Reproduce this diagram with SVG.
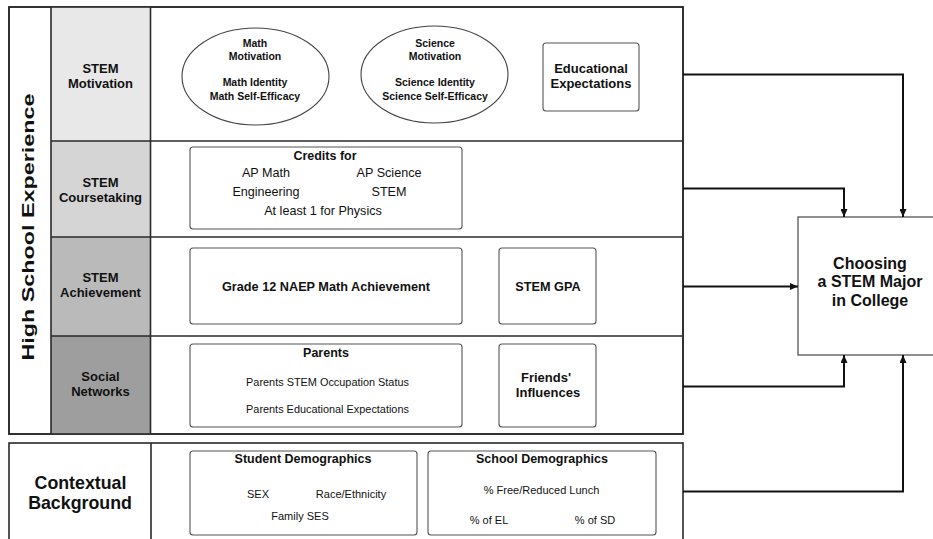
<svg xmlns="http://www.w3.org/2000/svg" width="933" height="539" viewBox="0 0 933 539">
<defs>
<style>
text{font-family:"Liberation Sans",Arial,sans-serif;fill:#111;text-anchor:middle}
.b{font-weight:bold}
.frame{fill:#fff;stroke:#2a2a2a;stroke-width:1.6}
.div{stroke:#2a2a2a;stroke-width:1.6;fill:none}
.box{fill:#fff;stroke:#555;stroke-width:1.1}
.conn{fill:none;stroke:#111;stroke-width:2}
</style>
<marker id="ah" markerUnits="userSpaceOnUse" markerWidth="9" markerHeight="7" refX="8" refY="3.5" orient="auto">
<path d="M0,0 L8,3.5 L0,7 z" fill="#111"/>
</marker>
</defs>
<rect width="933" height="539" fill="#fff"/>

<g id="high-school-frame">
<rect class="frame" x="9" y="7" width="674" height="427"/>
<rect x="51" y="7" width="99.5" height="134" fill="#e8e8e8"/>
<rect x="51" y="141" width="99.5" height="96" fill="#d5d5d5"/>
<rect x="51" y="237" width="99.5" height="99" fill="#bababa"/>
<rect x="51" y="336" width="99.5" height="98" fill="#9e9e9e"/>
<path class="div" d="M51,7 V434 M150.5,7 V434 M51,141 H683 M51,237 H683 M51,336 H683"/>
<rect x="9" y="7" width="674" height="427" fill="none" stroke="#2a2a2a" stroke-width="1.6"/>
<text class="b" transform="translate(34,227) rotate(-90)" font-size="16" textLength="267" lengthAdjust="spacingAndGlyphs">High School Experience</text>
</g>

<g id="row-motivation-label">
<text class="b" font-size="13" x="100.5" y="73">STEM</text>
<text class="b" font-size="13" x="100.5" y="88">Motivation</text>
</g>
<g id="row-coursetaking-label">
<text class="b" font-size="13" x="100.5" y="187">STEM</text>
<text class="b" font-size="13" x="100.5" y="202">Coursetaking</text>
</g>
<g id="row-achievement-label">
<text class="b" font-size="13" x="100.5" y="282">STEM</text>
<text class="b" font-size="13" x="100.5" y="297">Achievement</text>
</g>
<g id="row-social-label">
<text class="b" font-size="13" x="100.5" y="381">Social</text>
<text class="b" font-size="13" x="100.5" y="396">Networks</text>
</g>

<g id="math-motivation">
<ellipse cx="255.5" cy="76.5" rx="73.5" ry="48.5" fill="#fff" stroke="#444" stroke-width="1.1"/>
<text class="b" font-size="10.5" x="255" y="47">Math</text>
<text class="b" font-size="10.5" x="255" y="60">Motivation</text>
<text class="b" font-size="10.5" x="255" y="86">Math Identity</text>
<text class="b" font-size="10.5" x="255" y="99.5">Math Self-Efficacy</text>
</g>
<g id="science-motivation">
<ellipse cx="434.5" cy="74.5" rx="73.5" ry="48.5" fill="#fff" stroke="#444" stroke-width="1.1"/>
<text class="b" font-size="10.5" x="435" y="47">Science</text>
<text class="b" font-size="10.5" x="435" y="60">Motivation</text>
<text class="b" font-size="10.5" x="435" y="86">Science Identity</text>
<text class="b" font-size="10.5" x="435" y="99.5">Science Self-Efficacy</text>
</g>
<g id="educational-expectations">
<rect class="box" x="543" y="43" width="96" height="68" rx="3"/>
<text class="b" font-size="13" x="591" y="72.5">Educational</text>
<text class="b" font-size="13" x="591" y="87.5">Expectations</text>
</g>

<g id="credits">
<rect class="box" x="190" y="147" width="272" height="82" rx="3"/>
<text class="b" font-size="12.5" x="325" y="159.5">Credits for</text>
<text font-size="12.6" x="266" y="176.5">AP Math</text>
<text font-size="12.6" x="389" y="176.5">AP Science</text>
<text font-size="12.6" x="266" y="196">Engineering</text>
<text font-size="12.6" x="389" y="196">STEM</text>
<text font-size="12.6" x="323" y="215">At least 1 for Physics</text>
</g>

<g id="naep-math">
<rect class="box" x="190" y="248" width="272" height="76" rx="3"/>
<text class="b" font-size="12.7" x="326" y="290.5">Grade 12 NAEP Math Achievement</text>
</g>
<g id="stem-gpa">
<rect class="box" x="499" y="248" width="97" height="76" rx="3"/>
<text class="b" font-size="12.7" x="548" y="290.5">STEM GPA</text>
</g>

<g id="parents">
<rect class="box" x="190" y="344" width="272" height="83" rx="3"/>
<text class="b" font-size="12.5" x="326" y="356.5">Parents</text>
<text font-size="10.9" x="327.5" y="386">Parents STEM Occupation Status</text>
<text font-size="10.9" x="327.5" y="412.5">Parents Educational Expectations</text>
</g>
<g id="friends">
<rect class="box" x="499" y="344" width="97" height="83" rx="3"/>
<text class="b" font-size="13" x="546" y="381.5">Friends'</text>
<text class="b" font-size="13" x="548" y="396.5">Influences</text>
</g>

<g id="contextual-background">
<rect class="frame" x="9" y="443" width="674" height="110"/>
<path class="div" d="M151,443 V539"/>
<text class="b" font-size="17.8" x="80.5" y="488.5">Contextual</text>
<text class="b" font-size="17.8" x="80" y="509">Background</text>
</g>
<g id="student-demographics">
<rect class="box" x="190" y="451" width="227" height="84" rx="3"/>
<text class="b" font-size="12.5" x="303" y="462.5">Student Demographics</text>
<text font-size="11" x="258" y="498">SEX</text>
<text font-size="11" x="351" y="498">Race/Ethnicity</text>
<text font-size="11" x="300" y="519.5">Family SES</text>
</g>
<g id="school-demographics">
<rect class="box" x="428" y="451" width="228" height="84" rx="3"/>
<text class="b" font-size="12.5" x="542" y="462.5">School Demographics</text>
<text font-size="11" x="541.5" y="493.5">% Free/Reduced Lunch</text>
<text font-size="11" x="489" y="524">% of EL</text>
<text font-size="11" x="595" y="524">% of SD</text>
</g>

<g id="choosing-stem-major">
<rect x="798" y="217" width="140" height="138" fill="#fff" stroke="#555" stroke-width="1.3"/>
<text class="b" font-size="16" x="870" y="268.5">Choosing</text>
<text class="b" font-size="16" x="870" y="287">a STEM Major</text>
<text class="b" font-size="16" x="870" y="305.5">in College</text>
</g>

<g id="connectors">
<path class="conn" d="M683,74.5 H903 V217" marker-end="url(#ah)"/>
<path class="conn" d="M683,188.5 H844 V217" marker-end="url(#ah)"/>
<path class="conn" d="M683,286.5 H798" marker-end="url(#ah)"/>
<path class="conn" d="M683,386.5 H844 V355" marker-end="url(#ah)"/>
<path class="conn" d="M683,491.5 H903 V355" marker-end="url(#ah)"/>
</g>
</svg>
